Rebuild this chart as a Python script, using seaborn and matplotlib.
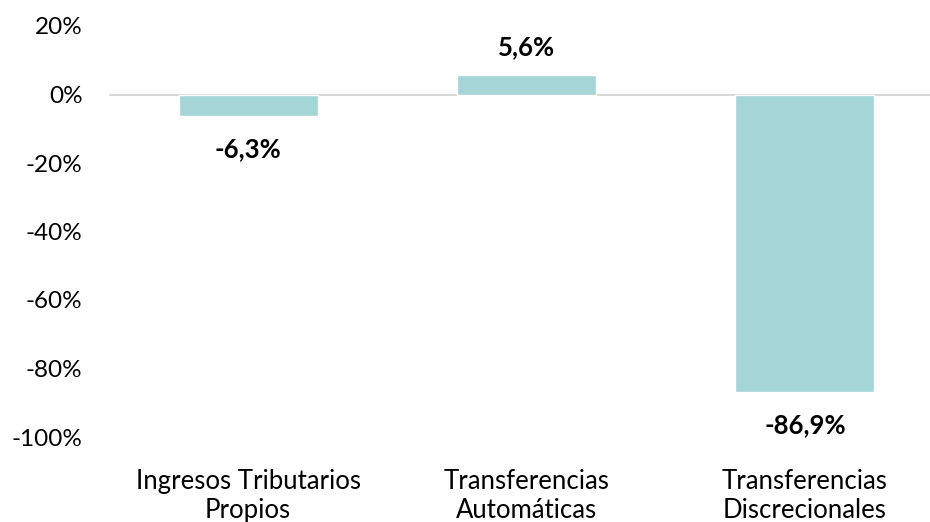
import matplotlib
matplotlib.use("Agg")
import matplotlib.pyplot as plt
import seaborn as sns
import pandas as pd
from matplotlib.ticker import FuncFormatter

categories = ["Ingresos Tributarios\nPropios", "Transferencias\nAutomáticas", "Transferencias\nDiscrecionales"]
values = [-6.3, 5.6, -86.9]
value_labels = ["-6,3%", "5,6%", "-86,9%"]
yticks = [20, 0, -20, -40, -60, -80, -100]

sns.set_theme(style="white")
plt.rcParams['font.family'] = ['Lato', 'DejaVu Sans']

df = pd.DataFrame({"cat": categories, "val": values})

fig = plt.figure(figsize=(9.3, 5.22), dpi=100)
# axes spans x 109..944 px, y 26..437 px (from top)
ax = fig.add_axes([109/930, (522-437)/522, (944-109)/930, (437-26)/522])
sns.barplot(data=df, x="cat", y="val", color="#A5D5D6", width=0.5, ax=ax, saturation=1)
ax.set_ylim(-100, 20)
ax.set_yticks(yticks)
ax.yaxis.set_major_formatter(FuncFormatter(lambda v, p: f"{v:.0f}%"))
ax.axhline(0, color="#D9D9D9", lw=1.5, zorder=0)
for s in ax.spines.values():
    s.set_visible(False)
ax.set_xlabel("")
ax.set_ylabel("")
ax.tick_params(axis="y", labelsize=17.5, colors="black", pad=19, length=0)
ax.tick_params(axis="x", labelsize=18.5, colors="black", pad=23, length=0)

for i, (v, lab) in enumerate(zip(values, value_labels)):
    off = 20 if v > 0 else -24
    ax.annotate(lab, (i, v), xytext=(0, off), textcoords="offset points",
                ha="center", va="center", fontsize=18.5, fontweight="bold", color="black")

fig.savefig("out.png", dpi=100)
